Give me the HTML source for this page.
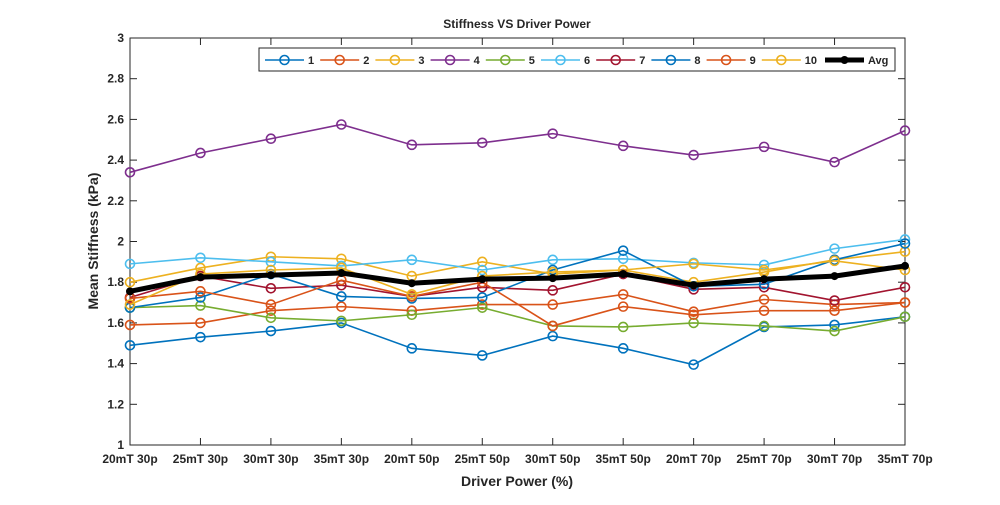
<!DOCTYPE html>
<html><head><meta charset="utf-8"><style>
body{margin:0;background:#fff;font-family:"Liberation Sans",sans-serif}
svg text{font-family:"Liberation Sans",sans-serif;font-weight:bold;fill:#262626}
</style></head><body>
<svg id="c" width="1000" height="500">
<rect width="1000" height="500" fill="#fff"/>
<text x="517" y="28" text-anchor="middle" font-size="12">Stiffness VS Driver Power</text>
<text x="517" y="486" text-anchor="middle" font-size="14">Driver Power (%)</text>
<text transform="translate(98,241) rotate(-90)" text-anchor="middle" font-size="14">Mean Stiffness (kPa)</text>
<g id="axes"></g><g id="series"></g><g id="legend"></g>
</svg>
<script>
const categories=["20mT 30p","25mT 30p","30mT 30p","35mT 30p","20mT 50p","25mT 50p","30mT 50p","35mT 50p","20mT 70p","25mT 70p","30mT 70p","35mT 70p"];
const yTicks=[1,1.2,1.4,1.6,1.8,2,2.2,2.4,2.6,2.8,3];
const yTickLabels=["1","1.2","1.4","1.6","1.8","2","2.2","2.4","2.6","2.8","3"];
const seriesNames=["1","2","3","4","5","6","7","8","9","10","Avg"];
const s1=[1.49,1.53,1.56,1.60,1.475,1.44,1.535,1.475,1.395,1.58,1.59,1.63];
const s2=[1.59,1.60,1.66,1.68,1.66,1.69,1.69,1.74,1.655,1.715,1.69,1.70];
const s3=[1.80,1.87,1.925,1.915,1.83,1.90,1.84,1.86,1.80,1.85,1.91,1.95];
const s4=[2.34,2.435,2.505,2.575,2.475,2.485,2.53,2.47,2.425,2.465,2.39,2.545];
const s5=[1.675,1.685,1.625,1.61,1.64,1.675,1.585,1.58,1.60,1.585,1.56,1.63];
const s6=[1.89,1.92,1.90,1.88,1.91,1.86,1.91,1.915,1.895,1.885,1.965,2.01];
const s7=[1.725,1.83,1.77,1.785,1.73,1.775,1.76,1.84,1.765,1.775,1.71,1.775];
const s8=[1.675,1.725,1.84,1.73,1.72,1.725,1.86,1.955,1.78,1.79,1.91,1.99];
const s9=[1.72,1.755,1.69,1.81,1.73,1.80,1.585,1.68,1.64,1.66,1.66,1.70];
const s10=[1.69,1.84,1.86,1.87,1.74,1.83,1.85,1.86,1.89,1.86,1.905,1.86];
const avg=[1.755,1.825,1.835,1.845,1.795,1.815,1.82,1.84,1.785,1.815,1.83,1.88];
const allSeries=[s1,s2,s3,s4,s5,s6,s7,s8,s9,s10,avg];
const colors=["#0072BD","#D95319","#EDB120","#7E2F8E","#77AC30","#4DBEEE","#A2142F","#0072BD","#D95319","#EDB120","#000"];
const NS="http://www.w3.org/2000/svg";
const L=130,R=905,T=38,B=445;
const xS=i=>L+i*(R-L)/(categories.length-1);
const yS=v=>B-(v-1)/2*(B-T);
function mk(tag,attrs,parent){const e=document.createElementNS(NS,tag);for(const k in attrs)e.setAttribute(k,attrs[k]);parent.appendChild(e);return e;}
const ax=document.getElementById("axes");
const frame=mk("rect",{x:L,y:T,width:R-L,height:B-T,fill:"none",stroke:"#262626","stroke-width":1},ax);


yTicks.forEach((v,i)=>{const y=yS(v);
 mk("line",{x1:L,x2:L+7,y1:y,y2:y,stroke:"#262626"},ax);mk("line",{x1:R,x2:R-7,y1:y,y2:y,stroke:"#262626"},ax);
 const t=mk("text",{x:L-6,y:y+4,"text-anchor":"end","font-size":"12"},ax);t.textContent=yTickLabels[i];
 
 });
categories.forEach((c,i)=>{const x=xS(i);
 mk("line",{x1:x,x2:x,y1:B,y2:B-7,stroke:"#262626"},ax);mk("line",{x1:x,x2:x,y1:T,y2:T+7,stroke:"#262626"},ax);
 const t=mk("text",{x:x,y:B+18,"text-anchor":"middle","font-size":"12"},ax);t.textContent=c;
 
 });
const sg=document.getElementById("series");
allSeries.forEach((d,si)=>{const g=mk("g",{},sg);
 
 
 const isAvg=si===10;
 mk("polyline",{points:d.map((v,i)=>xS(i)+","+yS(v)).join(" "),fill:"none",stroke:colors[si],"stroke-width":isAvg?5:1.6},g);
 d.forEach((v,i)=>{const p=isAvg?mk("circle",{cx:xS(i),cy:yS(v),r:4,fill:"#000"},g):mk("circle",{cx:xS(i),cy:yS(v),r:4.5,fill:"none",stroke:colors[si],"stroke-width":1.6},g);
  
  });});
const lg=document.getElementById("legend");
const lb=mk("rect",{x:259,y:48,width:636,height:23,fill:"#fff",stroke:"#262626","stroke-width":1},lg);


seriesNames.forEach((n,i)=>{const isAvg=i===10,x=isAvg?825:265+i*55.2,y=60;
 const g=mk("g",{},lg);
 
 
 mk("line",{x1:x,x2:x+39,y1:y,y2:y,stroke:colors[i],"stroke-width":isAvg?5:1.6},g);
 if(isAvg)mk("circle",{cx:x+19.5,cy:y,r:4,fill:"#000"},g);else mk("circle",{cx:x+19.5,cy:y,r:4.5,fill:"none",stroke:colors[i],"stroke-width":1.6},g);
 const t=mk("text",{x:x+43,y:y+4,"font-size":"11"},g);t.textContent=n;});
</script>
</body></html>
